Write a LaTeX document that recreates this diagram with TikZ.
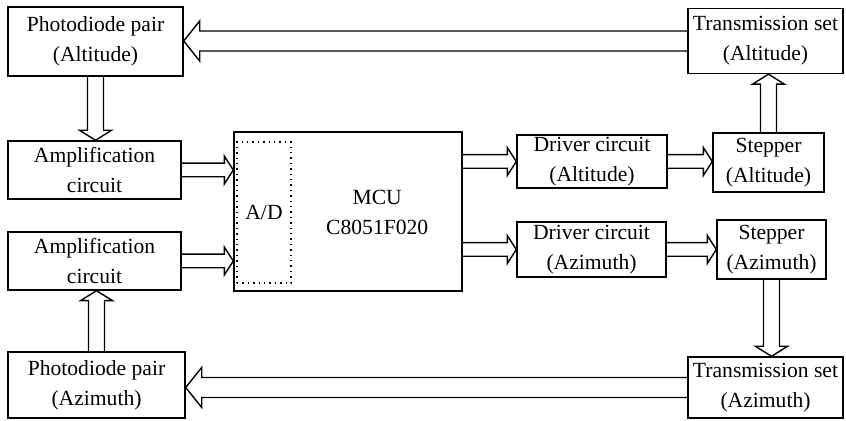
\documentclass[tikz,border=0pt]{standalone}
\usepackage{fontspec}
\setmainfont{Liberation Serif}
\usetikzlibrary{calc}
\tikzset{
  blk/.style={draw, line width=0.7pt, align=center, inner sep=1pt,
    font=\fontsize{10.8}{15}\selectfont},
  fatshaft/.store in=\fatw, fathead/.store in=\fath, fatlen/.store in=\fatl,
  fatshaft=4pt, fathead=8pt, fatlen=5pt,
  fat/.style={draw, line width=0.7pt, to path={
      let \p1=(\tikztostart), \p2=(\tikztotarget),
          \n1={atan2(\y2-\y1,\x2-\x1)}, \n2={veclen(\x2-\x1,\y2-\y1)} in
      {[shift={(\p1)}, rotate=\n1]
        (0pt,\fatw) -- (\n2-\fatl,\fatw) -- (\n2-\fatl,\fath) -- (\n2,0pt)
        -- (\n2-\fatl,-\fath) -- (\n2-\fatl,-\fatw) -- (0pt,-\fatw)}}},
  small/.style={fatshaft=3.4pt, fathead=7pt, fatlen=4.5pt},
  long/.style={fatshaft=5pt, fathead=10pt, fatlen=8pt},
}
\begin{document}
\begin{tikzpicture}[x=0.5pt, y=-0.5pt]
  \useasboundingbox (0,0) rectangle (846,421);
  \node[blk, minimum width=87.5pt, minimum height=34.5pt] (pdA) at (95.5,41.5) {Photodiode pair\\(Altitude)};
  \node[blk, minimum width=86.5pt, minimum height=29pt] (ampA) at (94.5,170) {Amplification\\circuit};
  \node[blk, minimum width=86.5pt, minimum height=29pt] (ampZ) at (94.5,261) {Amplification\\circuit};
  \node[blk, minimum width=88.5pt, minimum height=33pt] (pdZ) at (96.5,385) {Photodiode pair\\(Azimuth)};
  \node[blk, minimum width=114pt, minimum height=79.5pt] (mcu) at (348,211.5) {};
  \node[blk, dotted, minimum width=27pt, minimum height=70.5pt] (ad) at (264,212.5) {A/D};
  \node[font=\fontsize{10.8}{15}\selectfont, align=center] (mculab) at ($(ad.east)!0.5!(mcu.east)$) {MCU\\C8051F020};
  \node[blk, minimum width=75pt, minimum height=26.5pt] (drA) at (592,161.5) {Driver circuit\\(Altitude)};
  \node[blk, minimum width=74.5pt, minimum height=27.5pt] (drZ) at (591.5,249.5) {Driver circuit\\(Azimuth)};
  \node[blk, minimum width=55.5pt, minimum height=29.5pt] (stA) at (768.5,162.5) {Stepper\\(Altitude)};
  \node[blk, minimum width=54.5pt, minimum height=29.5pt] (stZ) at (771.5,249.5) {Stepper\\(Azimuth)};
  \node[blk, minimum width=77.5pt, minimum height=32.5pt] (trA) at (765.5,41) {Transmission set\\(Altitude)};
  \node[blk, minimum width=77.5pt, minimum height=30.5pt] (trZ) at (765.5,387.5) {Transmission set\\(Azimuth)};

  \draw[fat, long] (trA.west) to (trA.west -| pdA.east);
  \draw[fat, long] (trZ.west) to (trZ.west -| pdZ.east);
  \draw[fat] (pdA.south) to (pdA.south |- ampA.north);
  \draw[fat] (pdZ.north) to (pdZ.north |- ampZ.south);
  \draw[fat, small] (ampA.east) to (ampA.east -| mcu.west);
  \draw[fat, small] (ampZ.east) to (ampZ.east -| mcu.west);
  \draw[fat, small] (drA.west -| mcu.east) to (drA.west);
  \draw[fat, small] (drZ.west -| mcu.east) to (drZ.west);
  \draw[fat, small] (drA.east) to (drA.east -| stA.west);
  \draw[fat, small] (drZ.east) to (drZ.east -| stZ.west);
  \draw[fat] (stA.north) to (stA.north |- trA.south);
  \draw[fat] (stZ.south) to (stZ.south |- trZ.north);
\end{tikzpicture}
\end{document}
